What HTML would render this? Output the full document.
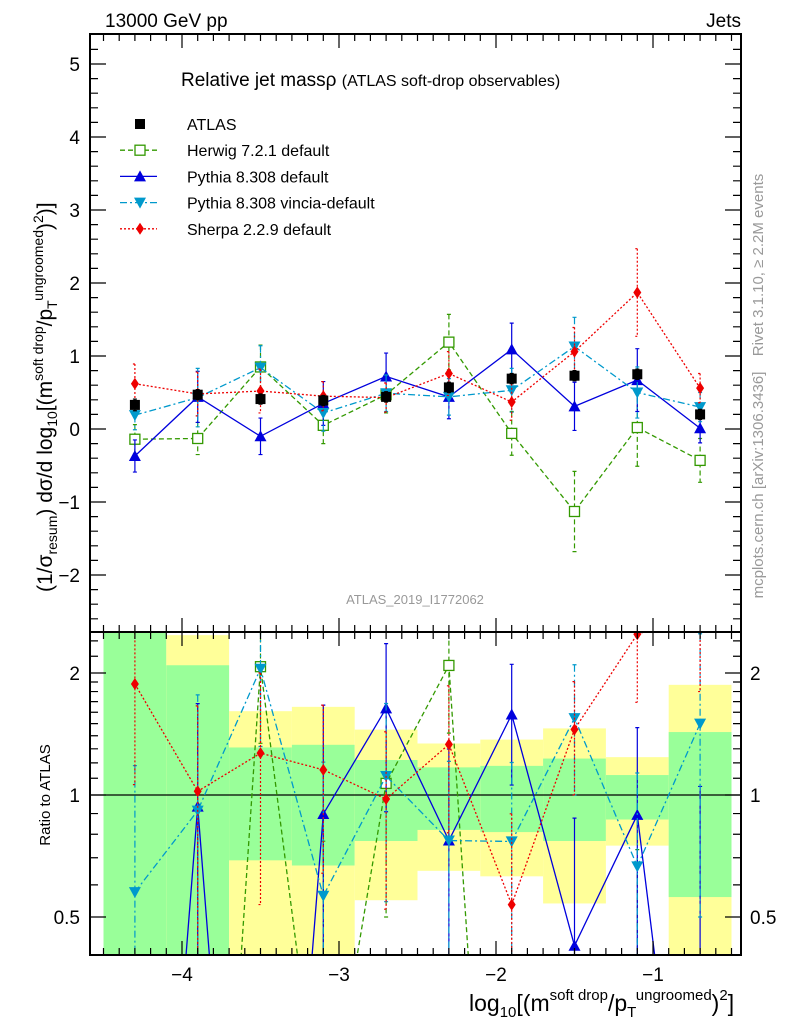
<!DOCTYPE html>
<html><head><meta charset="utf-8"><style>
body{margin:0;background:#fff;overflow:hidden}
svg{display:block;font-family:"Liberation Sans",sans-serif}
</style></head><body>
<svg id="c" width="786" height="1024" viewBox="0 0 786 1024">
<defs>
<clipPath id="cm"><rect x="90" y="34" width="651" height="598"/></clipPath>
<clipPath id="cr"><rect x="90" y="632" width="651" height="323"/></clipPath>
</defs>
<g id="bands" clip-path="url(#cr)"></g>
<g id="rat" clip-path="url(#cr)"></g>
<g id="main" clip-path="url(#cm)"></g>
<g id="axes"></g>
<text x="105" y="27" font-size="19">13000 GeV pp</text>
<text x="741" y="27" font-size="19" text-anchor="end">Jets</text>
<text transform="translate(763,265) rotate(-90)" font-size="15" fill="#999" text-anchor="middle">Rivet 3.1.10, ≥ 2.2M events</text>
<text transform="translate(763,485) rotate(-90)" font-size="15" fill="#999" text-anchor="middle">mcplots.cern.ch [arXiv:1306.3436]</text>
<text x="181" y="86" font-size="19">Relative jet massρ <tspan font-size="16">(ATLAS soft-drop observables)</tspan></text>
<text x="415" y="604" font-size="13" fill="#999" text-anchor="middle">ATLAS_2019_I1772062</text>
<text transform="translate(52,592) rotate(-90)" font-size="21">(1/σ<tspan font-size="14" dy="5">resum</tspan><tspan dy="-5">) dσ/d log</tspan><tspan font-size="14" dy="5">10</tspan><tspan dy="-5">[(m</tspan><tspan font-size="14" dy="-9">soft drop</tspan><tspan dy="9">/p</tspan><tspan font-size="14" dy="5">T</tspan><tspan font-size="14" dy="-14">ungroomed</tspan><tspan dy="9">)</tspan><tspan font-size="14" dy="-9">2</tspan><tspan dy="9">)]</tspan></text>
<text transform="translate(50,795) rotate(-90)" font-size="15" text-anchor="middle">Ratio to ATLAS</text>
<text x="469" y="1011" font-size="23">log<tspan font-size="15" dy="6">10</tspan><tspan dy="-6">[(m</tspan><tspan font-size="15" dy="-11">soft drop</tspan><tspan dy="11">/p</tspan><tspan font-size="15" dy="6">T</tspan><tspan font-size="15" dy="-17">ungroomed</tspan><tspan dy="11">)</tspan><tspan font-size="15" dy="-11">2</tspan><tspan dy="11">]</tspan></text>
<g id="legend"></g>
</svg>
<script>
const xs=[-4.3,-3.9,-3.5,-3.1,-2.7,-2.3,-1.9,-1.5,-1.1,-0.7];
const atlasV=[0.33,0.47,0.41,0.39,0.44,0.57,0.69,0.73,0.75,0.20];
const atlasE=[0.08,0.07,0.07,0.07,0.07,0.07,0.07,0.07,0.07,0.07];
const herwigV=[-0.14,-0.13,0.85,0.05,0.47,1.19,-0.06,-1.13,0.02,-0.43];
const herwigE=[0.2,0.22,0.3,0.25,0.25,0.38,0.3,0.55,0.53,0.3];
const pythiaV=[-0.37,0.44,-0.10,0.35,0.72,0.44,1.09,0.31,0.67,0.01];
const pythiaE=[0.22,0.35,0.25,0.3,0.32,0.3,0.36,0.33,0.43,0.2];
const vinciaV=[0.19,0.43,0.84,0.22,0.49,0.44,0.53,1.13,0.50,0.30];
const vinciaE=[0.2,0.4,0.3,0.25,0.25,0.25,0.3,0.4,0.35,0.2];
const sherpaV=[0.62,0.48,0.52,0.45,0.43,0.76,0.37,1.06,1.87,0.56];
const sherpaE=[0.27,0.3,0.3,0.2,0.2,0.3,0.25,0.33,0.6,0.2];
const yelLo=[0.3,0.3,0.3,0.3,0.55,0.65,0.63,0.54,0.75,0.3];
const yelHi=[3,2.48,1.61,1.65,1.45,1.34,1.37,1.46,1.24,1.87];
const grnLo=[0.3,0.3,0.69,0.67,0.77,0.82,0.81,0.77,0.87,0.56];
const grnHi=[3,2.09,1.31,1.33,1.22,1.17,1.18,1.23,1.12,1.43];
const xTicks=[-4,-3,-2,-1];
const yTicks=[-2,-1,0,1,2,3,4,5];
const rTicks=[0.5,1,2];

const NS="http://www.w3.org/2000/svg";
const X=v=>182+(v+4)*157;
const Ym=v=>429-73*v;
const Yr=r=>795-122*Math.log2(Math.max(r,0.01));
const RB=955;
function mk(parent,tag,attrs){const e=document.createElementNS(NS,tag);for(const k in attrs)e.setAttribute(k,attrs[k]);document.getElementById(parent).appendChild(e);return e;}

for(let i=0;i<xs.length;i++){
  let e=mk('bands','rect',{x:X(xs[i]-0.2),width:X(xs[i]+0.2)-X(xs[i]-0.2),y:Yr(yelHi[i]),height:Yr(yelLo[i])-Yr(yelHi[i]),fill:'#ffff99'});
  
  
  e=mk('bands','rect',{x:X(xs[i]-0.2),width:X(xs[i]+0.2)-X(xs[i]-0.2),y:Yr(grnHi[i]),height:Yr(grnLo[i])-Yr(grnHi[i]),fill:'#99ff99'});
  
  
}
let l1=mk('bands','line',{x1:90,x2:741,y1:Yr(1),y2:Yr(1),stroke:'#000','stroke-width':1.3});



const series=[
 {n:'herwig',V:herwigV,E:herwigE,c:'#339900',d:'5,3',m:'osq',lab:'Herwig 7.2.1 default'},
 {n:'pythia',V:pythiaV,E:pythiaE,c:'#0000dd',d:'',m:'tu',lab:'Pythia 8.308 default'},
 {n:'vincia',V:vinciaV,E:vinciaE,c:'#0099cc',d:'7,3,2,3',m:'td',lab:'Pythia 8.308 vincia-default'},
 {n:'sherpa',V:sherpaV,E:sherpaE,c:'#ee0000',d:'2,2',m:'dia',lab:'Sherpa 2.2.9 default'}
];
function marker(g,m,x,y,c,name){
  let e;
  if(m==='osq')e=mk(g,'rect',{x:x-5,y:y-5,width:10,height:10,fill:'#fff',stroke:c,'stroke-width':1.3});
  else if(m==='sq')e=mk(g,'rect',{x:x-5,y:y-5,width:10,height:10,fill:c});
  else if(m==='tu')e=mk(g,'polygon',{points:`${x},${y-6} ${x-6},${y+5} ${x+6},${y+5}`,fill:c});
  else if(m==='td')e=mk(g,'polygon',{points:`${x},${y+6} ${x-6},${y-5} ${x+6},${y-5}`,fill:c});
  else e=mk(g,'polygon',{points:`${x},${y-6} ${x-4},${y} ${x},${y+6} ${x+4},${y}`,fill:c});
  
  
}
function errbar(g,x,y1,y2,c,d,name){
  const e=mk(g,'path',{d:`M${x},${y1}V${y2}M${x-2},${y1}h4M${x-2},${y2}h4`,stroke:c,'stroke-width':1.2,'stroke-dasharray':d,fill:'none'});
  
  
}
for(const s of series){
  let pts=xs.map((x,i)=>X(x)+','+Ym(s.V[i])).join(' ');
  let pl=mk('main','polyline',{points:pts,fill:'none',stroke:s.c,'stroke-width':1.3,'stroke-dasharray':s.d});
  
  
  xs.forEach((x,i)=>{errbar('main',X(x),Ym(s.V[i]+s.E[i]),Ym(s.V[i]-s.E[i]),s.c,s.d,s.n+'-error');marker('main',s.m,X(x),Ym(s.V[i]),s.c,s.n+'-point');});
  const R=s.V.map((v,i)=>v/atlasV[i]);
  const RE=s.E.map((e,i)=>e/atlasV[i]);
  pts=xs.map((x,i)=>X(x)+','+Yr(R[i])).join(' ');
  pl=mk('rat','polyline',{points:pts,fill:'none',stroke:s.c,'stroke-width':1.3,'stroke-dasharray':s.d});
  
  
  xs.forEach((x,i)=>{errbar('rat',X(x),Yr(R[i]+RE[i]),Yr(R[i]-RE[i]),s.c,s.d,s.n+'-ratio-error');if(R[i]>0)marker('rat',s.m,X(x),Yr(R[i]),s.c,s.n+'-ratio-point');});
}
xs.forEach((x,i)=>{errbar('main',X(x),Ym(atlasV[i]+atlasE[i]),Ym(atlasV[i]-atlasE[i]),'#000','','atlas-error');marker('main','sq',X(x),Ym(atlasV[i]),'#000','atlas-point');});

for(const [y0,h,nm] of [[34,598,'main-frame'],[632,RB-632,'ratio-frame']]){
  const f=mk('axes','rect',{x:90,y:y0,width:651,height:h,fill:'none',stroke:'#000','stroke-width':2});
  
  
}
let tk='';
for(let v=-4.5;v<=-0.45;v+=0.1){const x=X(v);const maj=Math.abs(v-Math.round(v))<0.01;const L=maj?14:7;
  tk+=`M${x},${RB}v-${L}M${x},632v${L}M${x},632v-${L}M${x},34v${L}`;}
for(let v=-2.6;v<=5.4;v+=0.2){const y=Ym(v);const maj=Math.abs(v-Math.round(v))<0.01;const L=maj?16:8;tk+=`M90,${y}h${L}M741,${y}h-${L}`;}
[0.6,0.7,0.8,0.9,1.1,1.2,1.3,1.4,1.5,1.6,1.7,1.8,1.9,2.2,2.4].forEach(r=>{const y=Yr(r);tk+=`M90,${y}h8M741,${y}h-8`;});
rTicks.forEach(r=>{const y=Yr(r);tk+=`M90,${y}h16M741,${y}h-16`;});
const tp=mk('axes','path',{d:tk,stroke:'#000','stroke-width':1.2,fill:'none'});


const fmt=v=>(v<0?'−'+(-v):''+v);
xTicks.forEach(v=>{const t=mk('axes','text',{x:X(v),y:981,'font-size':19,'text-anchor':'middle'});t.textContent=fmt(v);
  
  });
yTicks.forEach(v=>{const t=mk('axes','text',{x:80,y:Ym(v)+7,'font-size':19,'text-anchor':'end'});t.textContent=fmt(v);
  
  });
rTicks.forEach(v=>{let t=mk('axes','text',{x:80,y:Yr(v)+7,'font-size':19,'text-anchor':'end'});t.textContent=''+v;
  
  
  t=mk('axes','text',{x:750,y:Yr(v)+7,'font-size':19});t.textContent=''+v;
  
  });

const legRows=[{c:'#000',m:'sq',d:null,lab:'ATLAS'}].concat(series);
legRows.forEach((s,i)=>{const y=124+i*26.2;
  if(s.d!==null){const l=mk('legend','line',{x1:120,x2:157,y1:y,y2:y,stroke:s.c,'stroke-width':1.3,'stroke-dasharray':s.d});
    
    }
  marker('legend',s.m,140,y,s.c,'legend-marker');
  const t=mk('legend','text',{x:187,y:y+6,'font-size':16});t.textContent=s.lab;
  
  
});
</script>
</body></html>
